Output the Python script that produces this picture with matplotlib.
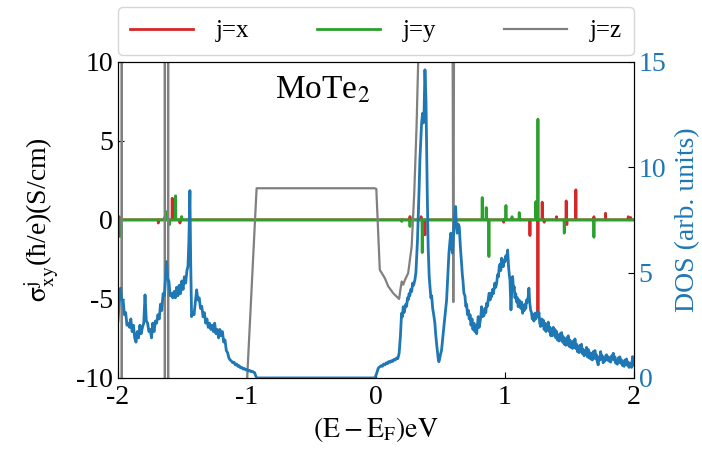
import numpy as np
import matplotlib
matplotlib.use("Agg")
import matplotlib.pyplot as plt

plt.rcParams['font.family'] = ['Liberation Serif', 'DejaVu Serif']
plt.rcParams['mathtext.fontset'] = 'stix'
plt.rcParams['axes.unicode_minus'] = False

# DOS (right axis), (E, DOS) pairs, region by region
dos_left = [(-2.00, 2.7), (-1.99, 3.6), (-1.98, 4.26), (-1.97, 3.7), (-1.96, 3.7), (-1.95, 3.0),
            (-1.94, 3.1), (-1.93, 2.5), (-1.92, 2.6), (-1.91, 2.4), (-1.90, 2.8), (-1.89, 2.2),
            (-1.88, 2.5), (-1.87, 1.9), (-1.86, 1.7), (-1.85, 2.2), (-1.84, 1.9), (-1.83, 2.5),
            (-1.82, 2.1), (-1.81, 2.4), (-1.80, 2.6), (-1.79, 3.94), (-1.78, 2.7), (-1.77, 2.6),
            (-1.76, 2.2), (-1.75, 2.3), (-1.74, 1.9), (-1.73, 2.6), (-1.72, 2.2), (-1.71, 2.7),
            (-1.70, 2.6), (-1.69, 3.0), (-1.68, 2.8), (-1.67, 3.5), (-1.66, 3.2), (-1.65, 4.0),
            (-1.64, 3.9), (-1.63, 4.8), (-1.623, 5.52), (-1.615, 4.7), (-1.605, 4.6), (-1.595, 3.9),
            (-1.585, 4.0), (-1.575, 3.8), (-1.565, 4.1), (-1.555, 3.8), (-1.545, 4.3), (-1.535, 3.9),
            (-1.525, 4.4), (-1.515, 4.0), (-1.505, 4.6), (-1.495, 4.2), (-1.485, 4.8), (-1.475, 4.5),
            (-1.465, 5.1), (-1.457, 5.3), (-1.450, 6.5), (-1.442, 8.89), (-1.436, 5.5), (-1.429, 2.91),
            (-1.42, 3.1), (-1.41, 3.0), (-1.40, 3.6), (-1.39, 4.18), (-1.38, 3.7), (-1.37, 3.8),
            (-1.36, 3.3), (-1.35, 3.4), (-1.34, 2.9), (-1.33, 3.1), (-1.32, 2.6), (-1.31, 2.8),
            (-1.30, 2.4), (-1.29, 2.6), (-1.28, 2.3), (-1.27, 2.5), (-1.26, 2.2), (-1.25, 2.6),
            (-1.24, 2.1), (-1.23, 2.3), (-1.22, 1.9), (-1.21, 2.3), (-1.20, 2.0), (-1.19, 2.2),
            (-1.18, 1.7), (-1.17, 1.8), (-1.16, 1.3), (-1.15, 1.2), (-1.14, 0.95), (-1.13, 0.85),
            (-1.12, 0.8), (-1.11, 0.72), (-1.10, 0.75), (-1.09, 0.62), (-1.08, 0.66), (-1.07, 0.55),
            (-1.06, 0.58), (-1.05, 0.48), (-1.04, 0.5), (-1.03, 0.42), (-1.02, 0.45), (-1.01, 0.38),
            (-1.00, 0.40), (-0.99, 0.33), (-0.98, 0.36), (-0.97, 0.30), (-0.96, 0.32), (-0.95, 0.28),
            (-0.94, 0.25), (-0.935, 0.15), (-0.925, 0.0)]
dos_gap = [(-0.5, 0.0), (-0.008, 0.0)]
dos_mid = [(0.005, 0.2), (0.018, 0.46), (0.028, 0.52), (0.040, 0.58), (0.050, 0.55), (0.060, 0.66),
           (0.070, 0.62), (0.080, 0.72), (0.090, 0.68), (0.100, 0.78), (0.110, 0.74), (0.120, 0.82),
           (0.130, 0.78), (0.140, 0.88), (0.150, 0.85), (0.160, 0.95), (0.170, 0.92), (0.180, 1.17),
           (0.190, 2.0), (0.199, 3.07), (0.205, 2.9), (0.212, 3.38), (0.218, 3.1), (0.225, 3.3),
           (0.232, 3.5), (0.238, 3.4), (0.245, 3.8), (0.250, 3.7), (0.257, 4.0), (0.263, 3.9),
           (0.270, 4.2), (0.277, 4.1), (0.285, 4.5), (0.292, 4.4), (0.302, 4.65), (0.310, 5.0),
           (0.315, 5.6), (0.322, 6.5), (0.328, 7.66), (0.335, 9.0), (0.341, 10.35), (0.348, 11.3),
           (0.354, 12.09), (0.362, 12.56), (0.368, 12.1), (0.372, 12.24), (0.380, 14.62), (0.388, 13.19),
           (0.393, 11.0), (0.398, 8.77), (0.405, 6.2), (0.413, 4.81), (0.420, 4.3), (0.426, 3.8),
           (0.432, 3.9), (0.440, 3.3), (0.448, 3.0), (0.457, 2.60), (0.463, 2.1), (0.470, 1.65),
           (0.478, 1.2), (0.483, 0.9), (0.488, 0.77), (0.494, 0.9), (0.500, 1.1), (0.509, 1.33),
           (0.518, 1.9), (0.527, 2.44), (0.538, 3.1), (0.548, 3.70), (0.557, 4.8), (0.566, 5.92),
           (0.574, 6.5), (0.581, 6.87), (0.587, 6.2), (0.594, 5.92), (0.600, 6.6), (0.607, 7.5),
           (0.613, 7.9), (0.618, 8.13), (0.624, 7.2), (0.630, 6.87), (0.638, 7.3), (0.646, 7.18),
           (0.655, 6.2), (0.664, 5.4)]
dos_right = [(0.670, 4.9), (0.675, 4.6), (0.682, 4.02), (0.690, 3.9), (0.697, 3.4), (0.703, 3.5),
             (0.710, 3.0), (0.717, 3.2), (0.723, 2.8), (0.730, 3.0), (0.737, 2.5), (0.745, 2.8),
             (0.752, 2.3), (0.760, 2.6), (0.767, 2.2), (0.774, 2.5), (0.781, 2.1), (0.787, 2.5),
             (0.793, 2.91), (0.800, 2.4), (0.806, 2.6), (0.813, 2.9), (0.819, 3.38), (0.826, 2.9),
             (0.832, 3.2), (0.837, 2.95), (0.845, 3.3), (0.852, 3.1), (0.858, 3.54), (0.865, 3.4),
             (0.872, 3.8), (0.878, 4.02), (0.885, 3.7), (0.891, 4.0), (0.897, 3.86), (0.904, 4.2),
             (0.910, 4.0), (0.915, 4.18), (0.922, 4.5), (0.929, 4.3), (0.936, 4.49), (0.943, 4.9),
             (0.950, 4.8), (0.956, 5.28), (0.962, 5.4), (0.968, 5.1), (0.974, 5.68), (0.980, 5.5),
             (0.987, 5.28), (0.993, 5.6), (1.000, 5.5), (1.007, 5.8), (1.014, 5.6), (1.021, 6.07),
             (1.028, 5.3), (1.034, 4.9), (1.039, 4.65), (1.043, 3.9), (1.047, 3.23), (1.052, 4.0),
             (1.056, 4.6), (1.060, 4.81), (1.066, 4.2), (1.072, 4.33), (1.078, 3.8), (1.084, 4.0),
             (1.091, 3.6), (1.097, 3.8), (1.103, 3.38), (1.110, 3.7), (1.116, 3.5), (1.123, 3.3),
             (1.130, 3.6), (1.137, 3.07), (1.144, 3.4), (1.150, 3.2), (1.155, 3.5), (1.162, 3.3),
             (1.168, 3.70), (1.175, 3.6), (1.181, 3.9), (1.186, 4.26), (1.192, 3.6), (1.199, 3.23),
             (1.206, 3.1), (1.212, 2.8), (1.218, 3.0), (1.225, 2.7), (1.233, 3.07), (1.240, 2.8),
             (1.247, 3.1), (1.252, 3.15), (1.258, 2.9), (1.264, 3.1), (1.270, 2.6), (1.277, 2.44),
             (1.284, 2.8), (1.290, 2.5), (1.297, 2.75), (1.304, 2.3), (1.311, 2.6), (1.318, 2.2),
             (1.325, 2.5), (1.330, 2.3), (1.336, 2.65), (1.343, 2.2), (1.350, 2.4), (1.356, 2.0),
             (1.362, 2.3), (1.369, 2.0), (1.375, 2.4), (1.382, 2.05), (1.388, 2.3), (1.395, 1.9),
             (1.401, 2.2), (1.407, 1.8), (1.413, 2.0), (1.420, 1.75), (1.427, 2.1), (1.433, 1.8),
             (1.440, 2.15), (1.447, 1.7), (1.453, 1.95), (1.460, 1.6), (1.465, 1.8), (1.472, 1.55),
             (1.478, 1.9), (1.485, 1.6), (1.491, 2.0), (1.498, 1.5), (1.504, 1.8), (1.511, 1.45),
             (1.517, 1.7), (1.524, 1.4), (1.530, 1.75), (1.537, 1.45), (1.543, 1.85), (1.550, 1.4),
             (1.556, 1.6), (1.562, 1.25), (1.568, 1.45), (1.575, 1.2), (1.581, 1.55), (1.588, 1.25),
             (1.594, 1.6), (1.601, 1.15), (1.607, 1.35), (1.614, 1.05), (1.620, 1.3), (1.627, 1.1),
             (1.633, 1.45), (1.640, 1.0), (1.646, 1.35), (1.652, 0.95), (1.659, 1.2), (1.665, 0.9),
             (1.672, 1.15), (1.678, 0.85), (1.685, 1.25), (1.691, 0.95), (1.698, 1.3), (1.704, 0.9),
             (1.710, 1.1), (1.717, 0.75), (1.723, 0.62), (1.730, 1.0), (1.736, 0.85), (1.742, 1.25),
             (1.749, 0.9), (1.755, 1.05), (1.762, 0.72), (1.768, 0.9), (1.775, 0.8), (1.781, 1.05),
             (1.788, 1.1), (1.794, 0.85), (1.801, 1.0), (1.807, 0.8), (1.814, 0.95), (1.820, 0.75),
             (1.827, 1.05), (1.833, 0.9), (1.840, 1.17), (1.846, 0.85), (1.853, 1.0), (1.859, 0.7),
             (1.866, 0.8), (1.872, 0.65), (1.879, 0.95), (1.885, 0.75), (1.891, 1.0), (1.898, 0.7),
             (1.904, 0.85), (1.911, 0.6), (1.917, 0.7), (1.924, 0.55), (1.930, 0.85), (1.937, 0.65),
             (1.943, 0.9), (1.950, 0.6), (1.956, 0.75), (1.962, 0.5), (1.969, 0.6), (1.975, 0.7),
             (1.982, 0.5), (1.990, 1.01), (1.995, 0.6), (2.000, 0.7)]

# sigma^z_xy (gray); values beyond +-10 run off the axes
z_E = [-2.000, -1.9705, -1.9700, -1.9695, -1.6365, -1.6360, -1.6355, -1.6115, -1.6110, -1.6105,
       -1.003, -1.000, -0.925, -0.010, 0.003, 0.030, 0.070, 0.095, 0.134, 0.160,
       0.180, 0.190, 0.200, 0.212, 0.225, 0.250, 0.277, 0.297, 0.315, 0.328,
       0.340, 0.585, 0.600, 0.615, 2.000]
z_val = [-40, -40, 40, -40, -40, 40, -40, -40, 40, -40,
         -40, -10.3, 2.0, 2.0, 1.96, -3.16, -3.7, -4.2, -4.64, -4.85,
         -5.0, -4.4, -3.9, -4.1, -3.8, -3.37, -1.69, 1.69, 5.9, 10.1,
         40, 40, -5.2, 40, 40]

# sigma^x_xy (red) and sigma^y_xy (green): zero with spikes
x_pk_E = [-1.990, -1.687, -1.579, -1.519, 0.264, 0.350, 0.380, 0.990, 1.116, 1.194,
          1.256, 1.289, 1.305, 1.400, 1.475, 1.480, 1.550, 1.690, 1.780, 1.956, 1.975]
x_pk_h = [0.2, -0.2, 1.37, -0.2, 0.21, 0.2, -0.95, -0.15, 0.1, -0.99,
          -5.9, 1.12, -0.15, 0.2, 1.20, -0.3, 1.90, 0.2, 0.42, 0.2, 0.15]
y_pk_E = [-1.984, -1.640, -1.618, -1.600, -1.553, -1.506, 0.200, 0.264, 0.359, 0.824,
          0.855, 0.876, 1.008, 1.055, 1.111, 1.240, 1.256, 1.460, 1.690]
y_pk_h = [-1.05, 0.15, 0.53, -0.3, 1.52, 0.21, -0.1, -0.42, -2.07, 1.41,
          0.78, -2.32, 0.91, 0.2, 0.46, 1.16, 6.37, -0.84, -1.10]


def spikes(pk_E, pk_h, d=0.002):
    E = [-2.0]
    v = [0.0]
    for e, h in zip(pk_E, pk_h):
        E += [e - d, e, e + d]
        v += [0.0, h, 0.0]
    E.append(2.0)
    v.append(0.0)
    return np.array(E), np.array(v)


xE, xv = spikes(x_pk_E, x_pk_h)
yE, yv = spikes(y_pk_E, y_pk_h)
dos = np.array(dos_left + dos_gap + dos_mid + dos_right)

fig = plt.figure(figsize=(7.02, 4.51), dpi=100)
ax = fig.add_axes([0.168, 0.162, 0.735, 0.701])

ax.plot(xE, xv, color='#d62728', lw=2, label='j=x')
ax.plot(yE, yv, color='#2ca02c', lw=2, label='j=y')
ax.plot(z_E, z_val, color='#808080', lw=1.6, label='j=z')

ax.set_xlim(-2, 2)
ax.set_ylim(-10, 10)
ax.set_xticks([-2, -1, 0, 1, 2])
ax.set_yticks([-10, -5, 0, 5, 10])
ax.tick_params(direction='in', labelsize=20, length=4)
ax.tick_params(axis='x', pad=5)
ax.set_xlabel(r'$(\mathrm{E}-\mathrm{E_F})\mathrm{eV}$', fontsize=20, labelpad=4)
ax.set_ylabel(r'$\mathrm{\sigma}^{\mathrm{j}}_{\mathrm{xy}}$(ħ/e)(S/cm)', fontsize=20, labelpad=12)
ax.text(0.304, 0.885, r'MoTe$_2$', fontsize=24, transform=ax.transAxes,
        ha='left', va='baseline')

ax.legend(loc='lower left', bbox_to_anchor=(0, 1.022, 1, 0.2), mode='expand',
          ncol=3, fontsize=18, handlelength=2.5, handletextpad=0.9,
          borderaxespad=0, borderpad=0.5, fancybox=True)

ax2 = ax.twinx()
ax2.plot(dos[:, 0], dos[:, 1], color='#1f77b4', lw=2)
ax2.set_ylim(0, 15)
ax2.set_yticks([0, 5, 10, 15])
ax2.tick_params(direction='in', labelsize=20, length=4, colors='#1f77b4')
ax2.tick_params(axis='y', color='black')
ax2.set_ylabel('DOS (arb. units)', color='#1f77b4', fontsize=20, labelpad=6)

fig.savefig('out.png', dpi=100)
